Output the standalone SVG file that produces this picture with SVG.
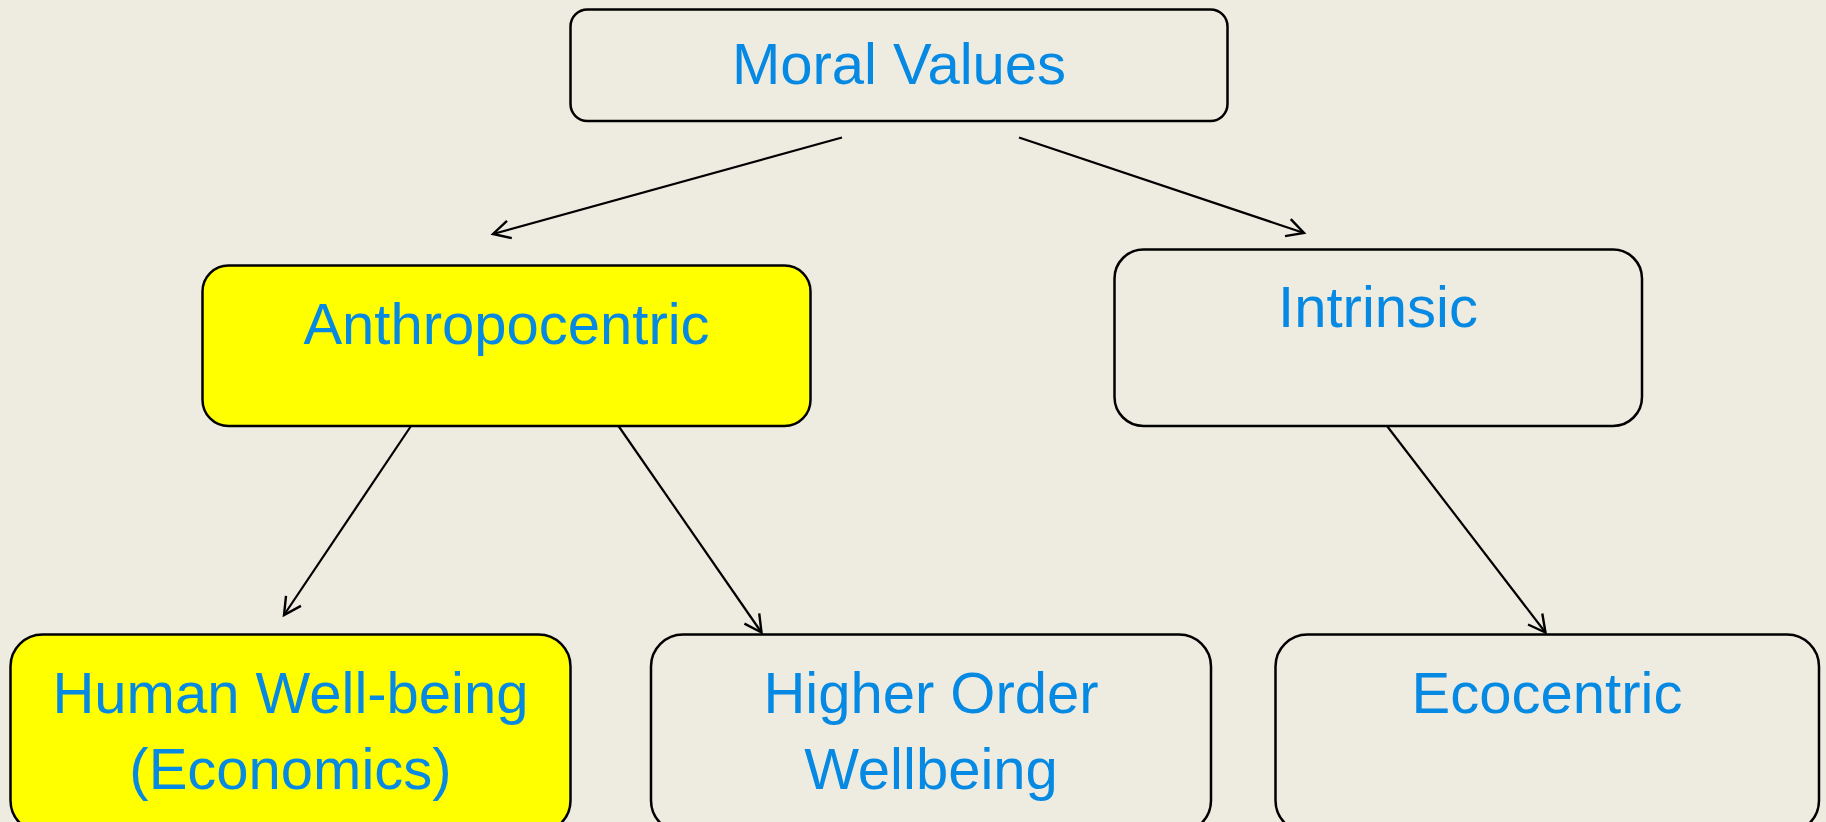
<svg xmlns="http://www.w3.org/2000/svg" width="1826" height="822" viewBox="0 0 1826 822">
  <style>
    .box { fill: #EEECE1; stroke: #000; stroke-width: 2.5; }
    .hl { fill: #FFFF00; }
    .label { font-family: "Liberation Sans", Arial, sans-serif; font-size: 58px; fill: #0589E3; text-anchor: middle; }
    .edge { fill: none; stroke: #000; stroke-width: 2.2; marker-end: url(#arrow); }
  </style>
  <defs>
    <marker id="arrow" markerUnits="userSpaceOnUse" viewBox="-22 -12 26 24" refX="0" refY="0" markerWidth="26" markerHeight="24" orient="auto">
      <path d="M-17,-9 L0,0 L-17,9" fill="none" stroke="#000" stroke-width="2.4" stroke-linejoin="miter"/>
    </marker>
  </defs>

  <rect width="1826" height="822" fill="#EEECE1"/>

  <g id="moral-values">
    <rect class="box" x="570.5" y="9.5" width="657" height="111.5" rx="17"/>
    <text class="label" x="899" y="84">Moral Values</text>
  </g>

  <g id="anthropocentric">
    <rect class="box hl" x="202.5" y="265.5" width="608" height="160.5" rx="26"/>
    <text class="label" x="506.5" y="343.5">Anthropocentric</text>
  </g>

  <g id="intrinsic">
    <rect class="box" x="1114.5" y="249.5" width="527.5" height="176.5" rx="29"/>
    <text class="label" x="1378" y="327">Intrinsic</text>
  </g>

  <g id="human-wellbeing">
    <rect class="box hl" x="10.5" y="634.5" width="560" height="198" rx="32"/>
    <text class="label" x="290.5" y="712.5">Human Well-being</text>
    <text class="label" x="290.5" y="788.5">(Economics)</text>
  </g>

  <g id="higher-order-wellbeing">
    <rect class="box" x="651" y="634.5" width="560" height="198" rx="32"/>
    <text class="label" x="931" y="712.5">Higher Order</text>
    <text class="label" x="931" y="788.5">Wellbeing</text>
  </g>

  <g id="ecocentric">
    <rect class="box" x="1275.5" y="634.5" width="543.5" height="198" rx="32"/>
    <text class="label" x="1547" y="712.5">Ecocentric</text>
  </g>

  <g id="connectors">
    <line class="edge" x1="842" y1="137.5" x2="493" y2="234"/>
    <line class="edge" x1="1019" y1="137.5" x2="1304" y2="233"/>
    <line class="edge" x1="411" y1="426" x2="284" y2="615"/>
    <line class="edge" x1="618.5" y1="426" x2="761.5" y2="632.5"/>
    <line class="edge" x1="1387" y1="426" x2="1545.5" y2="632.5"/>
  </g>
</svg>
